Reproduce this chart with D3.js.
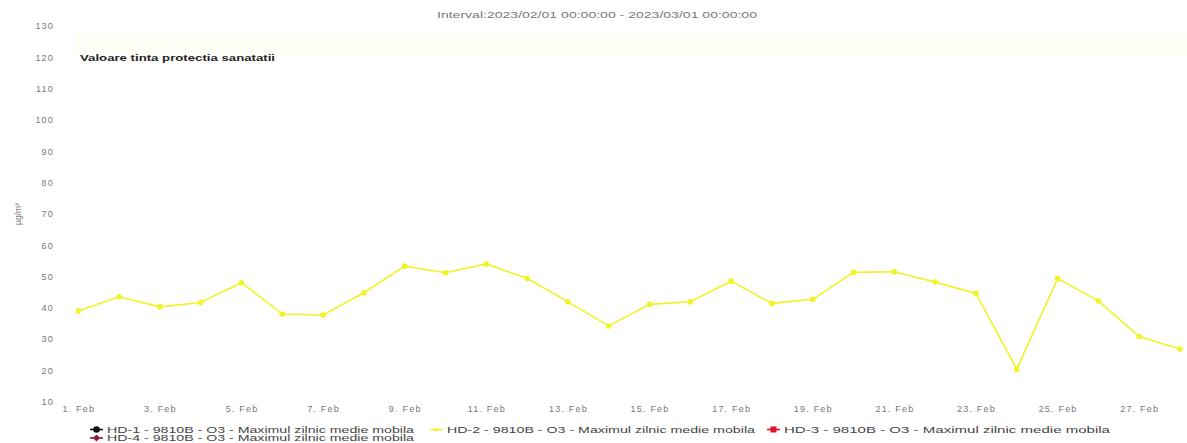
<!DOCTYPE html>
<html>
<head>
<meta charset="utf-8">
<script src="https://cdn.jsdelivr.net/npm/d3@7"></script>
<style>
  html, body { margin: 0; padding: 0; background: #fff; }
  svg { display: block; font-family: "Liberation Sans", Arial, sans-serif; }
</style>
</head>
<body>
<svg id="chart" width="1187" height="443"></svg>
<script>
// ---- data ----
const days = d3.range(1, 29); // 1..28 Feb 2023
const seriesNames = [
  "HD-1 - 9810B - O3 - Maximul zilnic medie mobila",
  "HD-2 - 9810B - O3 - Maximul zilnic medie mobila",
  "HD-3 - 9810B - O3 - Maximul zilnic medie mobila",
  "HD-4 - 9810B - O3 - Maximul zilnic medie mobila"
];
const seriesColors = ["#111111", "#f2f226", "#e0102a", "#8a1a3c"];
const hd2Values = [39.0, 43.5, 40.3, 41.7, 48.0, 38.0, 37.7, 44.8, 53.3, 51.2,
                   54.0, 49.4, 41.9, 34.2, 41.1, 41.9, 48.5, 41.4, 42.7, 51.3,
                   51.5, 48.2, 44.6, 20.4, 49.3, 42.2, 30.8, 26.8];
const yTicks = [10, 20, 30, 40, 50, 60, 70, 80, 90, 100, 110, 120, 130];
const xTickDays = [1, 3, 5, 7, 9, 11, 13, 15, 17, 19, 21, 23, 25, 27];
const targetValue = 120;
const targetLabel = "Valoare tinta protectia sanatatii";
const bandRange = [120.8, 128.5];
const titleText = "Interval:2023/02/01 00:00:00 - 2023/03/01 00:00:00";
const yUnit = "µg/m³";

// ---- layout ----
const svg = d3.select("#chart");
const dates = days.map(d => new Date(Date.UTC(2023, 1, d)));
const x = d3.scaleUtc()
  .domain([dates[0], dates[dates.length - 1]])
  .range([78.3, 1180]);
const y = d3.scaleLinear().domain([10, 130]).range([401.7, 26]);

// faint band near target line
svg.append("rect")
  .attr("x", 75).attr("width", 1187 - 75)
  .attr("y", y(bandRange[1]))
  .attr("height", y(bandRange[0]) - y(bandRange[1]))
  .attr("fill", "#fffff7");

// title
svg.append("text")
  .attr("x", 597).attr("y", 17.5)
  .attr("text-anchor", "middle")
  .attr("font-size", 8.5)
  .attr("fill", "#777")
  .attr("textLength", 320).attr("lengthAdjust", "spacingAndGlyphs")
  .text(titleText);

// target label
svg.append("text")
  .attr("x", 80).attr("y", y(targetValue) + 3.5)
  .attr("font-size", 9.5)
  .attr("font-weight", "bold")
  .attr("fill", "#222")
  .attr("textLength", 195).attr("lengthAdjust", "spacingAndGlyphs")
  .text(targetLabel);

// y axis
const yAxis = svg.append("g")
  .attr("transform", "translate(54,0)")
  .call(d3.axisLeft(y).tickValues(yTicks).tickSize(0).tickPadding(0));
yAxis.select(".domain").remove();
yAxis.selectAll("text")
  .attr("font-size", 9)
  .attr("fill", "#777")
  .attr("font-family", "Liberation Sans, Arial, sans-serif")
  .attr("letter-spacing", 1.2);

// y unit label
svg.append("text")
  .attr("transform", "translate(21,214) rotate(-90)")
  .attr("text-anchor", "middle")
  .attr("font-size", 8.5)
  .attr("fill", "#777")
  .text(yUnit);

// x axis
const xAxis = svg.append("g")
  .attr("transform", "translate(0,404)")
  .call(d3.axisBottom(x)
    .tickValues(xTickDays.map(d => new Date(Date.UTC(2023, 1, d))))
    .tickFormat(d => d.getUTCDate() + ". Feb")
    .tickSize(0).tickPadding(2));
xAxis.select(".domain").remove();
xAxis.selectAll("text")
  .attr("font-size", 9)
  .attr("fill", "#777")
  .attr("font-family", "Liberation Sans, Arial, sans-serif")
  .attr("letter-spacing", 1.2);

// line series HD-2
const pts = dates.map((d, i) => [d, hd2Values[i]]);
svg.append("path")
  .datum(pts)
  .attr("fill", "none")
  .attr("stroke", seriesColors[1])
  .attr("stroke-width", 1.6)
  .attr("d", d3.line().x(d => x(d[0])).y(d => y(d[1])));
svg.append("g").selectAll("circle")
  .data(pts).join("circle")
  .attr("cx", d => x(d[0])).attr("cy", d => y(d[1]))
  .attr("r", 2.8)
  .attr("fill", seriesColors[1]);

// legend
const legendPos = [[90, 429.5], [430, 429.5], [767, 429.5], [90, 438]];
const legendTextLen = [307, 308, 326, 307];
const leg = svg.append("g");
seriesNames.forEach((name, i) => {
  const [lx, ly] = legendPos[i];
  const g = leg.append("g").attr("transform", `translate(${lx},${ly})`);
  g.append("line").attr("x1", 0).attr("x2", 13).attr("y1", 0).attr("y2", 0)
    .attr("stroke", seriesColors[i]).attr("stroke-width", 1.6);
  if (i === 0) {
    g.append("circle").attr("cx", 6.5).attr("cy", 0).attr("r", 3.3).attr("fill", seriesColors[i]);
  } else if (i === 2) {
    g.append("rect").attr("x", 3.5).attr("y", -3).attr("width", 6).attr("height", 6).attr("fill", seriesColors[i]);
  } else if (i === 3) {
    g.append("path").attr("d", "M6.5,-3.5 L10,0 L6.5,3.5 L3,0 Z").attr("fill", seriesColors[i]);
  } else {
    g.append("path").attr("d", "M6.5,-2 L9,1.5 L4,1.5 Z").attr("fill", seriesColors[i]);
  }
  g.append("text").attr("x", 17).attr("y", 3)
    .attr("font-size", 8.5)
    .attr("fill", "#444")
    .attr("textLength", legendTextLen[i]).attr("lengthAdjust", "spacingAndGlyphs")
    .text(name);
});
</script>
</body>
</html>
